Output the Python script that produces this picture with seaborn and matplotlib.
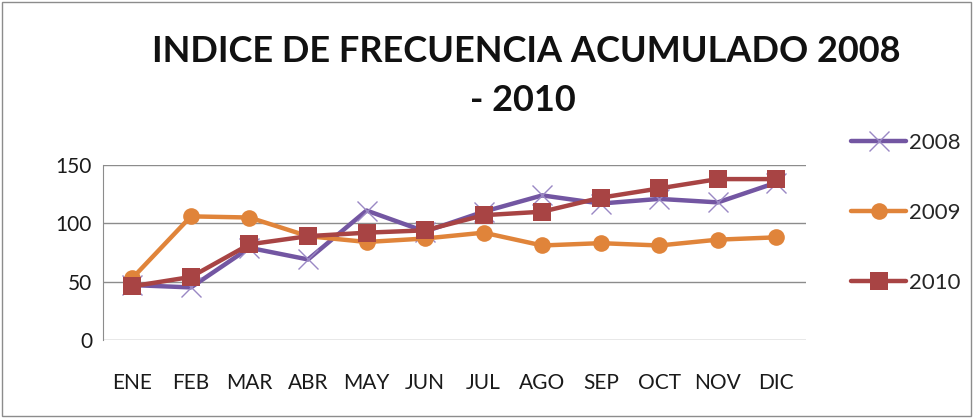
import pandas as pd
import matplotlib.pyplot as plt
import seaborn as sns
from matplotlib.patches import Rectangle

# Monthly cumulative frequency index values
months = ['ENE', 'FEB', 'MAR', 'ABR', 'MAY', 'JUN', 'JUL', 'AGO', 'SEP', 'OCT', 'NOV', 'DIC']
v2008 = [47, 45, 79, 69, 111, 93, 110, 124, 117, 121, 118, 135]
v2009 = [53, 106, 105, 89, 84, 87, 92, 81, 83, 81, 86, 88]
v2010 = [46, 54, 82, 89, 92, 94, 107, 110, 122, 130, 138, 138]

sns.set_style('white')
plt.rcParams['font.family'] = ['Lato', 'DejaVu Sans']

df = pd.DataFrame({'mes': months * 3,
                   'valor': v2008 + v2009 + v2010,
                   'serie': ['2008'] * 12 + ['2009'] * 12 + ['2010'] * 12})

colors = {'2008': '#7356A2', '2009': '#E0843A', '2010': '#A84444'}
markers = {'2008': 'x', '2009': 'o', '2010': 's'}
msizes = {'2008': 14, '2009': 12, '2010': 12.5}

fig = plt.figure(figsize=(9.73, 4.18), dpi=100)
ax = fig.add_axes([0.106, 0.187, 0.722, 0.418])

for s in ['2008', '2009', '2010']:
    d = df[df['serie'] == s]
    sns.lineplot(data=d, x='mes', y='valor', ax=ax, color=colors[s], linewidth=3.2,
                 marker=markers[s], markersize=msizes[s], markeredgewidth=1 if s == '2008' else 0,
                 markeredgecolor='#9a88c4' if s == '2008' else colors[s], label=s, sort=False)

ax.set_ylim(0, 150)
ax.set_yticks([0, 50, 100, 150])
ax.set_xlim(-0.5, 11.5)
ax.yaxis.grid(True, color='#8c8c8c', linewidth=1)
ax.set_axisbelow(True)
ax.set_xlabel('')
ax.set_ylabel('')
for side in ['top', 'right', 'bottom']:
    ax.spines[side].set_visible(False)
ax.spines['left'].set_color('#8c8c8c')
ax.tick_params(axis='both', length=0, labelsize=15, colors='#1a1a1a')
ax.tick_params(axis='x', pad=24)
ax.tick_params(axis='y', pad=8)

fig.text(0.541, 0.876, 'INDICE DE FRECUENCIA ACUMULADO 2008', ha='center', va='center',
         fontsize=26, fontweight='bold', color='#111111')
fig.text(0.537, 0.76, '- 2010', ha='center', va='center',
         fontsize=26, fontweight='bold', color='#111111')

leg = ax.legend(loc='upper left', bbox_to_anchor=(1.036, 1.30), frameon=False,
                fontsize=16, labelspacing=2.25, handlelength=2.5, handletextpad=0.1)

fig.patches.append(Rectangle((0.002, 0.005), 0.996, 0.99, transform=fig.transFigure,
                             fill=False, edgecolor='#8c8c8c', linewidth=1))

fig.savefig('out.png', dpi=100)
